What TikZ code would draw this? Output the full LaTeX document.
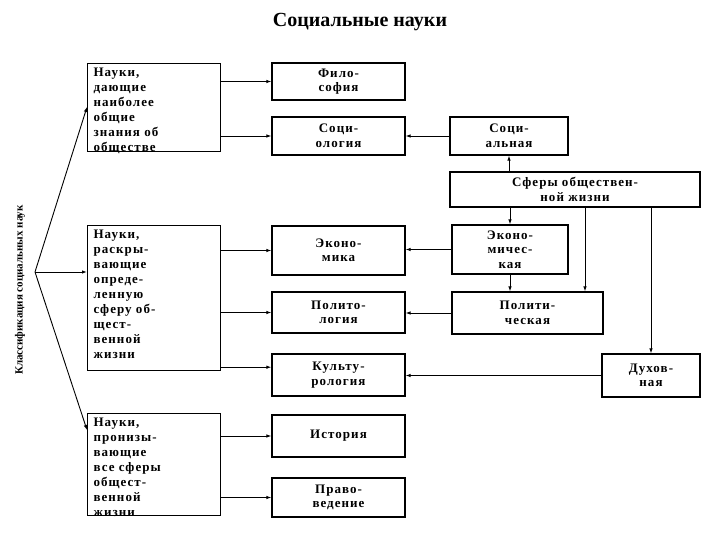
\documentclass[tikz,border=0pt]{standalone}
\usepackage{fontspec}
\setmainfont{Liberation Serif}
\newfontfamily\spc[LetterSpace=8]{Liberation Serif}
\usetikzlibrary{arrows.meta}
\begin{document}
\begin{tikzpicture}[x=1pt,y=-1pt,
  bx/.style={draw,line width=1.2pt,align=center,font=\spc\bfseries\fontsize{13}{14.5}\selectfont,inner sep=0pt},
  lb/.style={draw,line width=1.2pt,font=\spc\bfseries\fontsize{13}{15}\selectfont,inner xsep=6pt,inner ysep=4pt,anchor=north west},
  ar/.style={-{Latex[length=5pt,width=3.5pt]},line width=0.9pt}]
\useasboundingbox (0,0) rectangle (720,540);
\node[font=\bfseries\fontsize{20}{22}\selectfont] (title) at (360,22) {Социальные науки};
\node[font=\bfseries\fontsize{11}{12}\selectfont,rotate=90] (cls) at (20,290) {Классификация социальных наук};
\coordinate (o) at (35,272);
\node[lb] (a1) at (87,63) {\parbox[t][80pt][t]{121pt}{\raggedright Науки,\\дающие\\наиболее\\общие\\знания об\\обществе}};
\node[lb] (a2) at (87,225) {\parbox[t][137pt][t]{121pt}{\raggedright Науки,\\раскры-\\вающие\\опреде-\\ленную\\сферу об-\\щест-\\венной\\жизни}};
\node[lb] (a3) at (87,413) {\parbox[t][94pt][t]{121pt}{\raggedright Науки,\\пронизы-\\вающие\\все сферы\\общест-\\венной\\жизни}};
\node[bx,minimum width=133pt,minimum height=37pt] (filo) at (338.5,81.5) {Фило-\\софия};
\node[bx,minimum width=133pt,minimum height=38pt] (soc) at (338.5,136) {Соци-\\ология};
\node[bx,minimum width=118pt,minimum height=38pt] (soca) at (509,136) {Соци-\\альная};
\node[bx,minimum width=250pt,minimum height=35pt] (sf) at (575,189.5) {Сферы обществен-\\ной жизни};
\node[bx,minimum width=133pt,minimum height=49pt] (eco) at (338.5,250.5) {Эконо-\\мика};
\node[bx,minimum width=116pt,minimum height=49pt] (ecoa) at (510,249.5) {Эконо-\\мичес-\\кая};
\node[bx,minimum width=151pt,minimum height=42pt] (pola) at (527.5,313) {Полити-\\ческая};
\node[bx,minimum width=133pt,minimum height=41pt] (pol) at (338.5,312.5) {Полито-\\логия};
\node[bx,minimum width=133pt,minimum height=42pt] (kul) at (338.5,375) {Культу-\\рология};
\node[bx,minimum width=98pt,minimum height=43pt] (duh) at (651,375.5) {Духов-\\ная};
\node[bx,minimum width=133pt,minimum height=42pt] (ist) at (338.5,436) {История};
\node[bx,minimum width=133pt,minimum height=39pt] (pra) at (338.5,497.5) {Право-\\ведение};
\coordinate (k1) at ([yshift=4pt]a2.south east);
\draw[ar] (o) -- ([yshift=-44pt]a1.north west);
\draw[ar] (o) -- (a2.west |- o);
\draw[ar] (o) -- ([yshift=-17pt]a3.north west);
\draw[ar] (a1.east |- filo) -- (filo.west);
\draw[ar] (a1.east |- soc) -- (soc.west);
\draw[ar] (a2.east |- eco) -- (eco.west);
\draw[ar] (a2.east |- pol) -- (pol.west);
\draw[ar] (k1) -- (kul.west |- k1);
\draw[ar] (a3.east |- ist) -- (ist.west);
\draw[ar] (a3.east |- pra) -- (pra.west);
\draw[ar] (soca.west) -- (soc.east);
\draw[ar] (ecoa.west) -- (eco.east |- ecoa.west);
\draw[ar] (pola.west) -- (pol.east |- pola.west);
\draw[ar] (duh.west) -- (kul.east |- duh.west);
\draw[ar] (sf.north -| soca) -- (soca.south);
\draw[ar] (sf.south -| ecoa) -- (ecoa.north);
\draw[ar] (ecoa.south) -- (pola.north -| ecoa);
\draw[ar] ([xshift=10pt]sf.south) -- ([xshift=10pt]sf.south |- pola.north);
\draw[ar] (sf.south -| duh) -- (duh.north);
\end{tikzpicture}
\end{document}
